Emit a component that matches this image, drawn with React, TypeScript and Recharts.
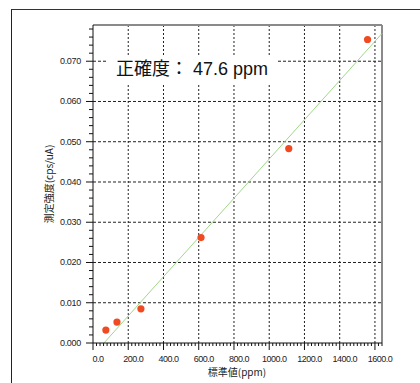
import React from 'react';
import { ScatterChart, Scatter, XAxis, YAxis, ReferenceLine } from 'recharts';

const stdPpm = [73, 136, 272, 613, 1111, 1558];
const intensity = [0.0032, 0.0052, 0.0085, 0.0262, 0.0483, 0.0754];
const fitX = [62, 1640];
const fitY = [0, 0.0769];
const xMajorTicks = [0, 200, 400, 600, 800, 1000, 1200, 1400, 1600];
const xMinorStep = 20;
const yMajorTicks = [0, 0.01, 0.02, 0.03, 0.04, 0.05, 0.06, 0.07];
const yMinorStep = 0.002;
const xMax = 1640;
const yMax = 0.079;
const xTitle = '標準値(ppm)';
const yTitle = '測定強度(cps/uA)';
const note = '正確度： 47.6 ppm';

const points = stdPpm.map((x, i) => ({ x, y: intensity[i] }));
const xTicks: number[] = [];
for (let k = 0; k * xMinorStep <= xMax; k++) xTicks.push(k * xMinorStep);
const yTicks: number[] = [];
for (let k = 0; k * yMinorStep <= yMax + 1e-9; k++) yTicks.push(+(k * yMinorStep).toFixed(4));

const tickFont = '"Liberation Sans", Arial, sans-serif';

const isMajor = (v: number, step: number) => Math.abs(v / step - Math.round(v / step)) < 1e-6;

const XTick = (props: any) => {
  const { x, y, payload } = props;
  const major = isMajor(payload.value, 200);
  return (
    <g>
      <line x1={x} y1={y} x2={x} y2={y + (major ? 7 : 3)} stroke="#111" strokeWidth={1} />
      {major && (
        <text x={x + 5} y={y + 19} textAnchor="middle" fontSize={9} fontFamily={tickFont} fill="#222" letterSpacing={-0.5}>
          {payload.value.toFixed(1)}
        </text>
      )}
    </g>
  );
};

const YTick = (props: any) => {
  const { x, y, payload } = props;
  const major = isMajor(payload.value, 0.01);
  return (
    <g>
      <line x1={x} y1={y} x2={x - (major ? 7 : 4)} y2={y} stroke="#111" strokeWidth={1} />
      {major && (
        <text x={x - 12} y={y + 3} textAnchor="end" fontSize={9} fontFamily={tickFont} fill="#222" letterSpacing={-0.3}>
          {payload.value.toFixed(3)}
        </text>
      )}
    </g>
  );
};

export default function App() {
  return (
    <div style={{ position: 'absolute', left: 0, top: 0, width: 420, height: 383, overflow: 'hidden', background: '#fff' }}>
      <div style={{ position: 'absolute', left: 11, top: 9, width: 430, height: 400, borderLeft: '1px solid #222', borderTop: '1px solid #333' }} />
      <div style={{ position: 'absolute', left: 0, top: 0 }}>
        <ScatterChart width={420} height={383} margin={{ top: 25, right: 38, bottom: 0, left: 0 }}>
          <XAxis
            type="number"
            dataKey="x"
            domain={[0, xMax]}
            ticks={xTicks}
            interval={0}
            tickSize={0}
            tickMargin={0}
            tick={<XTick />}
            height={40}
            stroke="#111"
            allowDataOverflow
            label={() => (
              <text x={237} y={376} textAnchor="middle" fontSize={10} fontFamily='"Noto Sans CJK JP", sans-serif' fill="#222">
                {xTitle}
              </text>
            )}
          />
          <YAxis
            type="number"
            dataKey="y"
            domain={[0, yMax]}
            ticks={yTicks}
            interval={0}
            tickSize={0}
            tickMargin={0}
            tick={<YTick />}
            width={93}
            stroke="#111"
            allowDataOverflow
            label={() => (
              <text x={48} y={184} transform="rotate(-90 48 184)" textAnchor="middle" dominantBaseline="central" fontSize={10} fontFamily='"Noto Sans CJK JP", sans-serif' fill="#222">
                {yTitle}
              </text>
            )}
          />
          {xMajorTicks.filter((v) => v > 0).map((v) => (
            <ReferenceLine key={'gx' + v} x={v} stroke="#222" strokeDasharray="2 2" strokeWidth={1} />
          ))}
          {yMajorTicks.filter((v) => v > 0).map((v) => (
            <ReferenceLine key={'gy' + v} y={v} stroke="#222" strokeDasharray="3 2" strokeWidth={1} />
          ))}
          <ReferenceLine y={yMax} stroke="#8a8a8a" strokeWidth={2} />
          <ReferenceLine x={xMax} stroke="#8a8a8a" strokeWidth={2} />
          <ReferenceLine
            segment={[
              { x: fitX[0], y: fitY[0] },
              { x: fitX[1], y: fitY[1] },
            ]}
            stroke="#9fd88a"
            strokeWidth={1}
          />
          <Scatter
            data={points}
            isAnimationActive={false}
            shape={(p: any) => <circle cx={p.cx} cy={p.cy} r={3.6} fill="#f04a22" />}
          />
        </ScatterChart>
      </div>
      <div
        style={{
          position: 'absolute',
          left: 107,
          top: 55,
          width: 170,
          height: 28,
          background: '#fff',
          fontFamily: '"Liberation Sans", "Noto Sans CJK JP", Arial, sans-serif',
          fontSize: 18,
          lineHeight: '28px',
          color: '#111',
          paddingLeft: 9,
          boxSizing: 'border-box',
          whiteSpace: 'nowrap',
        }}
      >
        {note}
      </div>
    </div>
  );
}
